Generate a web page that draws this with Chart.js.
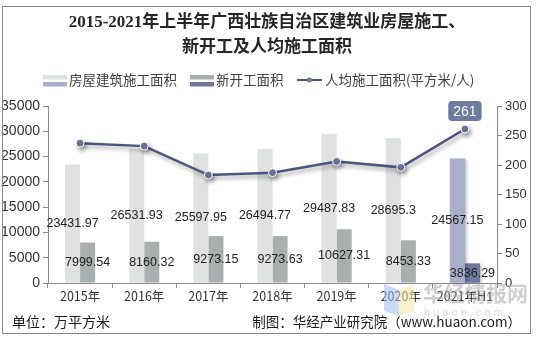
<!DOCTYPE html>
<html>
<head>
<meta charset="utf-8">
<script src="https://cdn.jsdelivr.net/npm/chart.js@4.4.0/dist/chart.umd.min.js"></script>
<style>
    html, body { margin: 0; padding: 0; background: #fff; }
    #wrap { position: relative; width: 537px; height: 341px; }
    #frame {
        position: absolute; left: 2px; top: 6px; width: 529px; height: 328px;
        border: 1.5px solid #878787; box-sizing: border-box; pointer-events: none;
    }
</style>
</head>
<body>
<div id="wrap">
    <canvas id="mainChart" width="537" height="341" style="width:537px;height:341px"></canvas>
    <div id="frame"></div>
</div>
<script>
const years = ['2015年', '2016年', '2017年', '2018年', '2019年', '2020年', '2021年H1'];
const constructionArea = [23431.97, 26531.93, 25597.95, 26494.77, 29487.83, 28695.3, 24567.15];
const newStartArea = [7999.54, 8160.32, 9273.15, 9273.63, 10627.31, 8453.33, 3836.29];
const perCapitaArea = [237, 232, 183, 187, 206, 196, 261];

const SANS = '"Liberation Sans", "Noto Sans CJK SC", sans-serif';
const CJK = '"Noto Sans CJK SC", "Liberation Sans", sans-serif';

// last year (H1) gets its own highlight colours
const lastIdx = years.length - 1;
const constructionColors = years.map((y, i) => i === lastIdx ? '#a9afc8' : '#e0e2e2');
const newStartColors = years.map((y, i) => i === lastIdx ? '#6f79a0' : '#a9aeae');

const extras = {
    id: 'extras',
    beforeDatasetDraw(chart, args) {
        const ctx = chart.ctx;
        ctx.save();
        if (args.index === 2) {
            ctx.shadowColor = 'rgba(0,0,0,0.35)';
            ctx.shadowBlur = 4;
            ctx.shadowOffsetX = 2;
            ctx.shadowOffsetY = 3;
        } else {
            // soft shadow behind the highlighted H1 bar
            const bar = args.meta.data[lastIdx];
            ctx.shadowColor = 'rgba(0,0,0,0.3)';
            ctx.shadowBlur = 3;
            ctx.shadowOffsetX = 2;
            ctx.shadowOffsetY = 0;
            ctx.fillStyle = chart.data.datasets[args.index].backgroundColor[lastIdx];
            ctx.fillRect(bar.x - bar.width / 2, bar.y, bar.width, bar.base - bar.y);
            ctx.shadowColor = 'transparent';
        }
    },
    afterDatasetDraw(chart) {
        chart.ctx.restore();
    },
    afterDatasetsDraw(chart) {
        const ctx = chart.ctx;
        ctx.save();
        // values in the middle of each bar
        ctx.font = '12.5px ' + SANS;
        ctx.fillStyle = '#222';
        ctx.textAlign = 'center';
        ctx.textBaseline = 'middle';
        [0, 1].forEach((di) => {
            const meta = chart.getDatasetMeta(di);
            meta.data.forEach((bar, i) => {
                const v = chart.data.datasets[di].data[i];
                ctx.fillText(String(v), bar.x, (bar.y + bar.base) / 2);
            });
        });
        // bubble over the latest per-capita point
        const pt = chart.getDatasetMeta(2).data[lastIdx];
        const txt = String(perCapitaArea[lastIdx]);
        ctx.font = '14px ' + SANS;
        const w = ctx.measureText(txt).width + 10, h = 20;
        const bx = pt.x - w / 2, by = pt.y - 8 - h;
        ctx.fillStyle = '#6f7aa0';
        ctx.beginPath();
        ctx.roundRect(bx, by, w, h, 4);
        ctx.fill();
        ctx.fillStyle = '#fff';
        ctx.fillText(txt, pt.x, by + h / 2 + 1);
        ctx.restore();
    },
    afterDraw(chart) {
        const ctx = chart.ctx;
        const ds = chart.data.datasets;
        ctx.save();
        ctx.textBaseline = 'middle';

        // title
        ctx.fillStyle = '#262626';
        ctx.textAlign = 'center';
        ctx.font = 'bold 17px "Liberation Serif", "Noto Sans CJK SC", serif';
        ctx.fillText('2015-2021年上半年广西壮族自治区建筑业房屋施工、', 267, 23);
        ctx.fillText('新开工及人均施工面积', 267, 48);

        // legend
        ctx.textAlign = 'left';
        ctx.font = '13.5px ' + CJK;
        ctx.fillStyle = ds[0].backgroundColor[0];
        ctx.fillRect(43, 75, 24, 4.5);
        ctx.fillStyle = ds[0].backgroundColor[lastIdx];
        ctx.fillRect(43, 82, 24, 4.5);
        ctx.fillStyle = '#404040';
        ctx.fillText(ds[0].label, 69, 80);

        ctx.fillStyle = ds[1].backgroundColor[0];
        ctx.fillRect(190, 75, 24, 4.5);
        ctx.fillStyle = ds[1].backgroundColor[lastIdx];
        ctx.fillRect(190, 82, 24, 4.5);
        ctx.fillStyle = '#404040';
        ctx.fillText(ds[1].label, 216, 80);

        ctx.strokeStyle = ds[2].borderColor;
        ctx.lineWidth = 2;
        ctx.beginPath();
        ctx.moveTo(297, 80);
        ctx.lineTo(322, 80);
        ctx.stroke();
        ctx.fillStyle = ds[2].pointBackgroundColor;
        ctx.beginPath();
        ctx.arc(309.5, 80, 2.5, 0, Math.PI * 2);
        ctx.fill();
        ctx.fillStyle = '#404040';
        ctx.fillText(ds[2].label, 325, 80);

        // watermark
        ctx.globalAlpha = 0.55;
        ctx.fillStyle = '#9dbef0';
        ctx.beginPath();
        ctx.moveTo(384, 284); ctx.lineTo(399, 290); ctx.lineTo(399, 316); ctx.lineTo(384, 311);
        ctx.fill();
        ctx.fillStyle = '#f6e7a6';
        ctx.beginPath();
        ctx.moveTo(399, 290); ctx.lineTo(414, 284); ctx.lineTo(414, 311); ctx.lineTo(399, 316);
        ctx.fill();
        ctx.globalAlpha = 1;
        ctx.fillStyle = 'rgba(170,170,170,0.55)';
        ctx.font = 'bold 21px ' + CJK;
        ctx.fillText('华经情报网', 423, 293);
        ctx.fillStyle = 'rgba(190,190,190,0.5)';
        ctx.font = '11px ' + SANS;
        ctx.fillText('h u a o n . c o m', 424, 313);

        // footer
        ctx.fillStyle = '#1a1a1a';
        ctx.font = '14px ' + CJK;
        ctx.fillText('单位：万平方米', 12, 322);
        ctx.textAlign = 'right';
        ctx.font = '13.5px ' + CJK;
        ctx.fillText('制图：华经产业研究院（www.huaon.com）', 521, 322);
        ctx.restore();
    }
};

function setupCanvas() {
    const ctx = document.getElementById('mainChart').getContext('2d');
    const data = {
        labels: years,
        datasets: [
            {
                type: 'bar',
                label: '房屋建筑施工面积',
                data: constructionArea,
                yAxisID: 'y',
                backgroundColor: constructionColors,
                order: 1
            },
            {
                type: 'bar',
                label: '新开工面积',
                data: newStartArea,
                yAxisID: 'y',
                backgroundColor: newStartColors,
                order: 1
            },
            {
                type: 'line',
                label: '人均施工面积(平方米/人)',
                data: perCapitaArea,
                yAxisID: 'y1',
                borderColor: '#4a5582',
                borderWidth: 2.5,
                pointBackgroundColor: '#6d78a0',
                pointBorderColor: '#ffffff',
                pointBorderWidth: 1,
                pointRadius: 4,
                tension: 0,
                order: 0
            }
        ]
    };

    const axisColor = '#8a8a8a';
    const config = {
        type: 'bar',
        data: data,
        options: {
            responsive: false,
            animation: false,
            layout: { padding: { top: 106, bottom: 36, left: 0, right: 0 } },
            datasets: { bar: { categoryPercentage: 0.47, barPercentage: 1.0 } },
            plugins: {
                legend: { display: false },
                title: { display: false },
                tooltip: { enabled: false }
            },
            scales: {
                x: {
                    offset: true,
                    grid: { offset: true, drawOnChartArea: false, tickLength: 5, color: axisColor },
                    border: { color: axisColor },
                    ticks: { color: '#333', font: { size: 12.5, family: CJK }, maxRotation: 0, autoSkip: false, padding: 1 },
                    afterFit: (s) => { s.height = 22; }
                },
                y: {
                    position: 'left',
                    min: 0,
                    max: 35000,
                    grid: { drawOnChartArea: false, tickLength: 5, color: axisColor },
                    border: { color: axisColor },
                    ticks: { stepSize: 5000, color: '#333', font: { size: 14, family: SANS }, padding: 3, callback: (v) => String(v) },
                    afterFit: (s) => { s.width = 48; }
                },
                y1: {
                    position: 'right',
                    min: 0,
                    max: 300,
                    grid: { drawOnChartArea: false, tickLength: 5, color: axisColor },
                    border: { color: axisColor },
                    ticks: { stepSize: 50, color: '#333', font: { size: 13, family: SANS }, padding: 3, callback: (v) => String(v) },
                    afterFit: (s) => { s.width = 40; }
                }
            }
        },
        plugins: [extras]
    };
    return new Chart(ctx, config);
}

const mainChart = setupCanvas();
</script>
</body>
</html>
